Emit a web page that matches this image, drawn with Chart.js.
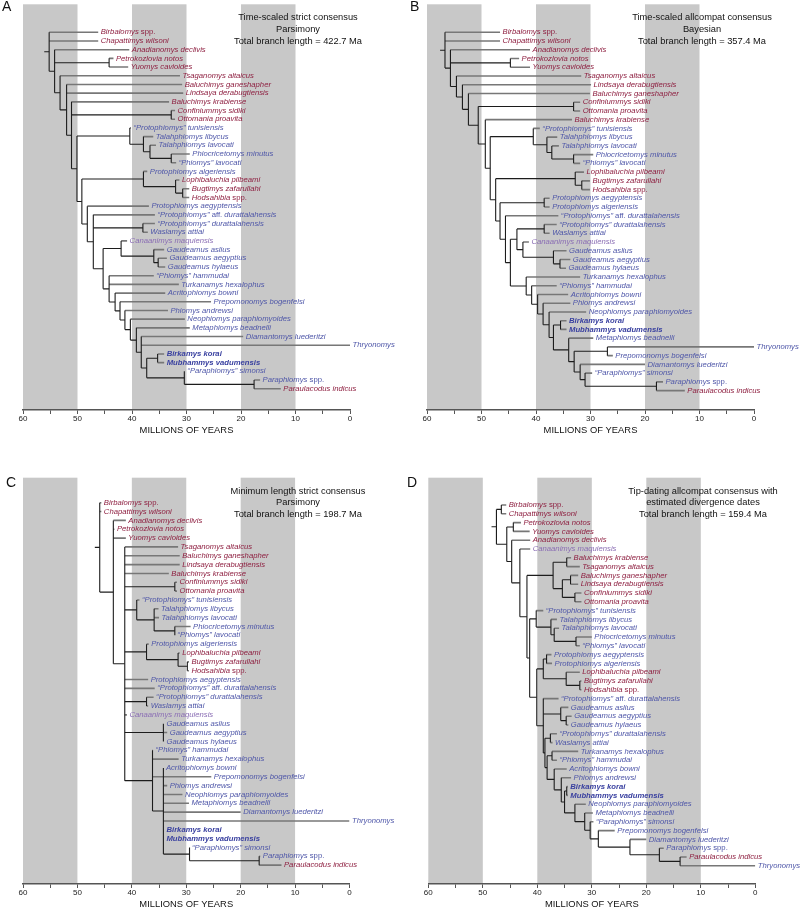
<!DOCTYPE html>
<html lang="en">
<head>
<meta charset="UTF-8" />
<title>Time-scaled phiomorph trees</title>
<script src="https://cdn.jsdelivr.net/npm/chart.js"></script>
<style>
  body { margin: 0; background: #fff; width: 800px; height: 907px; position: relative; overflow: hidden; }
  canvas { position: absolute; }
</style>
</head>
<body>
<canvas id="chartA" width="400" height="450" style="left:0px;top:0px"></canvas>
<canvas id="chartB" width="400" height="450" style="left:400px;top:0px"></canvas>
<canvas id="chartC" width="400" height="434" style="left:0px;top:473px"></canvas>
<canvas id="chartD" width="400" height="434" style="left:400px;top:473px"></canvas>
<script>
// x axis (millions of years before present)
const axisTicks = [60, 50, 40, 30, 20, 10, 0];
const grayBands = [[60, 50], [40, 30], [20, 10]];

const redTaxa = ['Birbalomys spp.', 'Chapattimys wilsoni', 'Anadianomys declivis', 'Petrokozlovia notos',
  'Yuomys cavioides', 'Tsaganomys altaicus', 'Baluchimys ganeshapher', 'Lindsaya derabugtiensis',
  'Baluchimys krabiense', 'Confiniummys sidiki', 'Ottomania proavita', 'Lophibaluchia pilbeami',
  'Bugtimys zafarullahi', 'Hodsahibia spp.', 'Paraulacodus indicus'];
const purpleTaxa = ['Canaanimys maquiensis'];
const boldTaxa = ['Birkamys korai', 'Mubhammys vadumensis'];

const titleA = ['Time-scaled strict consensus', 'Parsimony', 'Total branch length = 422.7 Ma'];
const titleB = ['Time-scaled allcompat consensus', 'Bayesian', 'Total branch length = 357.4 Ma'];
const titleC = ['Minimum length strict consensus', 'Parsimony', 'Total branch length = 198.7 Ma'];
const titleD = ['Tip-dating allcompat consensus with', 'estimated divergence dates', 'Total branch length = 159.4 Ma'];

// tip order (top to bottom), tip ages in Ma, and nodes: [age, children...]
// a positive child is a tip row (1-based), a negative child -k is node k; node 0 is the root
const taxaA = ['Birbalomys spp.', 'Chapattimys wilsoni', 'Anadianomys declivis', 'Petrokozlovia notos', 'Yuomys cavioides',
  'Tsaganomys altaicus', 'Baluchimys ganeshapher', 'Lindsaya derabugtiensis', 'Baluchimys krabiense', 'Confiniummys sidiki',
  'Ottomania proavita', '“Protophiomys” tunisiensis', 'Talahphiomys libycus', 'Talahphiomys lavocati', 'Phiocricetomys minutus',
  '“Phiomys” lavocati', 'Protophiomys algeriensis', 'Lophibaluchia pilbeami', 'Bugtimys zafarullahi', 'Hodsahibia spp.',
  'Protophiomys aegyptensis', '“Protophiomys” aff. durattalahensis', '“Protophiomys” durattalahensis', 'Waslamys attiai', 'Canaanimys maquiensis',
  'Gaudeamus aslius', 'Gaudeamus aegyptius', 'Gaudeamus hylaeus', '“Phiomys” hammudai', 'Turkanamys hexalophus',
  'Acritophiomys bowni', 'Prepomonomys bogenfelsi', 'Phiomys andrewsi', 'Neophiomys paraphiomyoides', 'Metaphiomys beadnelli',
  'Diamantomys luederitzi', 'Thryonomys', 'Birkamys korai', 'Mubhammys vadumensis', '“Paraphiomys” simonsi',
  'Paraphiomys spp.', 'Paraulacodus indicus'];
const tipAgeA = [46.2, 46.2, 40.5, 43.4, 40.7, 31.2, 30.8, 30.6, 33.2, 32.1,
  32.1, 40.2, 36.1, 35.6, 29.4, 31.9, 37.2, 31.3, 29.5, 29.5,
  36.9, 35.8, 35.8, 37.1, 40.9, 34.1, 33.6, 33.9, 36.0, 31.4,
  33.9, 25.5, 33.4, 30.3, 29.4, 19.6, 0, 34.1, 34.1, 30.3,
  16.5, 12.7];
const nodesA = [
  [55.2, 1, 2, -1], [54.2, 3, -2, -3], [44.2, 4, 5], [53.2, 6, -4], [52.0, 7, 8, -5],
  [51.1, 9, -6, -7], [32.8, 10, 11], [50.1, -8, -12], [40.4, 12, -9], [37.9, 13, -10],
  [36.7, 14, -11], [32.8, 15, 16], [49.2, -13, -16], [37.9, 17, -14], [32.0, 18, -15],
  [30.7, 19, 20], [48.2, 21, -17], [47.1, 22, -18, -19], [38.0, 23, 24], [45.3, -20, -23],
  [42.0, 25, -21], [36.0, 26, -22], [35.2, 27, 28], [44.2, 29, 30, -24], [43.1, 31, -25],
  [42.2, 32, -26], [41.3, 33, -27], [40.3, 34, -28], [39.2, 35, -29], [38.3, 36, 37, -30],
  [37.3, -31, -32], [35.3, 38, 39], [30.4, 40, -33], [17.6, 41, 42]];

const taxaB = ['Birbalomys spp.', 'Chapattimys wilsoni', 'Anadianomys declivis', 'Petrokozlovia notos', 'Yuomys cavioides',
  'Tsaganomys altaicus', 'Lindsaya derabugtiensis', 'Baluchimys ganeshapher', 'Confiniummys sidiki', 'Ottomania proavita',
  'Baluchimys krabiense', '“Protophiomys” tunisiensis', 'Talahphiomys libycus', 'Talahphiomys lavocati', 'Phiocricetomys minutus',
  '“Phiomys” lavocati', 'Lophibaluchia pilbeami', 'Bugtimys zafarullahi', 'Hodsahibia spp.', 'Protophiomys aegyptensis',
  'Protophiomys algeriensis', '“Protophiomys” aff. durattalahensis', '“Protophiomys” durattalahensis', 'Waslamys attiai', 'Canaanimys maquiensis',
  'Gaudeamus aslius', 'Gaudeamus aegyptius', 'Gaudeamus hylaeus', 'Turkanamys hexalophus', '“Phiomys” hammudai',
  'Acritophiomys bowni', 'Phiomys andrewsi', 'Neophiomys paraphiomyoides', 'Birkamys korai', 'Mubhammys vadumensis',
  'Metaphiomys beadnelli', 'Thryonomys', 'Prepomonomys bogenfelsi', 'Diamantomys luederitzi', '“Paraphiomys” simonsi',
  'Paraphiomys spp.', 'Paraulacodus indicus'];
const tipAgeB = [46.6, 46.6, 41.1, 43.1, 41.1, 31.7, 29.9, 30.1, 31.9, 31.9,
  33.4, 39.3, 36.1, 35.8, 29.5, 31.9, 31.2, 30.1, 30.1, 37.5,
  37.5, 35.9, 36.2, 37.5, 41.3, 34.4, 33.7, 34.5, 31.9, 36.2,
  34.1, 33.7, 30.8, 34.4, 34.4, 29.5, 0, 25.9, 20.0, 29.7,
  16.7, 12.7];
const nodesB = [
  [56.7, 1, 2, -1], [55.7, 3, -2, -3], [44.7, 4, 5], [54.6, 6, -4], [53.5, 7, -5],
  [52.4, 8, -6], [50.6, -7, -8], [33.1, 9, 10], [49.3, 11, -9], [48.4, -10, -14],
  [40.5, 12, -11], [38.0, 13, -12], [37.1, 14, -13], [33.1, 15, 16], [47.4, -15, -17],
  [32.8, 17, -16], [31.6, 18, 19], [46.6, -18, -19], [38.5, 20, 21], [45.6, 22, -20],
  [44.7, -21, -26], [43.5, -22, -23], [38.5, 23, 24], [42.4, 25, -24], [36.8, 26, -25],
  [35.6, 27, 28], [41.8, 29, -27], [40.8, 30, -28], [39.7, 31, -29], [38.7, 32, -30],
  [37.6, 33, -31], [36.8, -32, -33], [35.5, 34, 35], [34.0, 36, -34], [33.0, -35, -36],
  [26.9, 37, 38], [31.9, 39, -37], [31.0, 40, -38], [17.9, 41, 42]];

const taxaC = taxaA; // same tip order as panel A
const tipAgeC = [45.6, 45.6, 41.1, 43.2, 41.1, 31.5, 31.2, 31.2, 33.2, 31.7,
  31.7, 38.6, 35.1, 35.0, 29.2, 32.1, 36.9, 31.2, 29.5, 29.5,
  37.0, 35.8, 36.0, 37.0, 40.9, 34.1, 33.5, 34.1, 36.1, 31.4,
  34.2, 25.4, 33.5, 30.7, 29.5, 20.0, 0, 34.1, 34.1, 29.4,
  16.4, 12.5];
const nodesC = [
  [45.9, 1, 2, -1], [43.4, 3, 4, 5, -2],
  [41.3, 6, 7, 8, 9, -3, -4, -7, 21, 22, -10, 25, -11, -12],
  [32.1, 10, 11], [39.1, 12, -5], [35.9, 13, 14, -6], [32.1, 15, 16], [37.3, 17, -8],
  [31.5, 18, -9], [29.8, 19, 20], [37.3, 23, 24], [34.2, 26, 27, 28], [36.2, 29, 30, 32, -13],
  [34.2, 31, 33, 34, 35, 36, 37, 38, 39, -14], [29.4, 40, -15], [16.6, 41, 42]];

const taxaD = ['Birbalomys spp.', 'Chapattimys wilsoni', 'Petrokozlovia notos', 'Yuomys cavioides', 'Anadianomys declivis',
  'Canaanimys maquiensis', 'Baluchimys krabiense', 'Tsaganomys altaicus', 'Baluchimys ganeshapher', 'Lindsaya derabugtiensis',
  'Confiniummys sidiki', 'Ottomania proavita', '“Protophiomys” tunisiensis', 'Talahphiomys libycus', 'Talahphiomys lavocati',
  'Phiocricetomys minutus', '“Phiomys” lavocati', 'Protophiomys aegyptensis', 'Protophiomys algeriensis', 'Lophibaluchia pilbeami',
  'Bugtimys zafarullahi', 'Hodsahibia spp.', '“Protophiomys” aff. durattalahensis', 'Gaudeamus aslius', 'Gaudeamus aegyptius',
  'Gaudeamus hylaeus', '“Protophiomys” durattalahensis', 'Waslamys attiai', 'Turkanamys hexalophus', '“Phiomys” hammudai',
  'Acritophiomys bowni', 'Phiomys andrewsi', 'Birkamys korai', 'Mubhammys vadumensis', 'Neophiomys paraphiomyoides',
  'Metaphiomys beadnelli', '“Paraphiomys” simonsi', 'Prepomonomys bogenfelsi', 'Diamantomys luederitzi', 'Paraphiomys spp.',
  'Paraulacodus indicus', 'Thryonomys'];
const tipAgeD = [45.7, 45.7, 43.0, 41.4, 41.3, 41.3, 33.8, 32.2, 32.5, 32.5,
  31.9, 31.9, 38.9, 36.4, 36.0, 30.0, 32.2, 37.4, 37.3, 32.2,
  31.9, 31.9, 36.1, 34.3, 33.7, 34.3, 36.4, 37.2, 32.5, 36.4,
  34.6, 33.8, 34.4, 34.4, 31.1, 29.8, 29.7, 25.8, 20.0, 16.8,
  12.6, 0];
const nodesD = [
  [47.5, -1, -2], [46.6, 1, 2], [45.6, -3, -4], [44.4, 3, 4], [44.7, 5, -5],
  [43.2, 6, -6], [41.9, -7, -12], [37.1, -8, -9], [34.6, 7, 8], [35.4, -10, -11],
  [33.9, 9, 10], [33.1, 11, 12], [41.4, -13, -17], [40.2, 13, -14], [37.5, 14, -15],
  [36.9, 15, -16], [32.9, 16, 17], [40.1, -18, -22], [38.9, -19, -20], [38.3, 18, 19],
  [34.7, 20, -21], [32.2, 21, 22], [38.9, 23, -23, -25], [35.7, 24, -24], [34.7, 25, 26],
  [38.6, -26, -27], [37.6, 27, 28], [38.2, -28, -29], [37.3, 29, 30], [36.9, 31, -30],
  [35.6, 32, -31], [35.0, -32, -33], [34.6, 33, 34], [33.1, 35, -34], [31.3, 36, -35],
  [30.3, 37, -36], [28.8, 38, -37], [23.0, 39, -38], [17.6, 40, -39], [13.8, 41, 42]];

const FONT = '"Liberation Sans", Arial, sans-serif';

// turn node table into branch segments (x = age, y = tip row)
function branchSegments(nodes, tipAge) {
  const segs = [];
  function place(ref) {
    if (ref > 0) return { x: tipAge[ref - 1], y: ref, tip: true };
    const node = nodes[-ref];
    const age = node[0];
    const kids = node.slice(1).map(place);
    const ys = kids.map(k => k.y);
    const top = Math.min(...ys), bot = Math.max(...ys);
    segs.push({ pts: [{ x: age, y: top }, { x: age, y: bot }], tip: false });
    kids.forEach(k => segs.push({ pts: [{ x: age, y: k.y }, { x: k.x, y: k.y }], tip: k.tip }));
    return { x: age, y: (top + bot) / 2, tip: false };
  }
  const root = place(0);
  segs.push({ pts: [{ x: root.x + 0.9, y: root.y }, { x: root.x, y: root.y }], tip: false });
  return segs;
}

function labelColor(name) {
  if (boldTaxa.includes(name)) return '#3a41a0';
  if (redTaxa.includes(name)) return '#8e1f40';
  if (purpleTaxa.includes(name)) return '#8a6db4';
  return '#4e56a8';
}

function makePanel(id, letter, title, taxa, tipAge, nodes, box) {
  const segs = branchSegments(nodes, tipAge);
  const datasets = segs.map(s => ({
    data: s.pts,
    showLine: true,
    borderColor: s.tip ? '#777777' : '#1c1c1c',
    borderWidth: s.tip ? 1.6 : 1.1,
    pointRadius: 0,
    fill: false
  }));

  const treePlugin = {
    id: 'tree' + letter,
    beforeDraw(chart) {
      const { ctx, chartArea, scales } = chart;
      ctx.save();
      ctx.fillStyle = '#c8c8c8';
      grayBands.forEach(b => {
        const x1 = scales.x.getPixelForValue(b[0]);
        const x2 = scales.x.getPixelForValue(b[1]);
        ctx.fillRect(x1, chartArea.top, x2 - x1, chartArea.bottom - chartArea.top);
      });
      ctx.restore();
    },
    afterDraw(chart) {
      const { ctx, chartArea, scales } = chart;
      ctx.save();
      ctx.textBaseline = 'middle';
      // tip labels
      taxa.forEach((name, i) => {
        let x = scales.x.getPixelForValue(tipAge[i]) + 2.5;
        const y = scales.y.getPixelForValue(i + 1);
        const bold = boldTaxa.includes(name) ? 'bold ' : '';
        ctx.fillStyle = labelColor(name);
        name.split(' ').forEach((tok, j) => {
          const upright = tok === 'spp.' || tok === 'aff.';
          ctx.font = (upright ? '' : 'italic ') + bold + '7.7px ' + FONT;
          const txt = (j > 0 ? ' ' : '') + tok;
          ctx.fillText(txt, x, y);
          x += ctx.measureText(txt).width;
        });
      });
      // panel title
      ctx.fillStyle = '#111';
      ctx.textAlign = 'center';
      ctx.font = '9.3px ' + FONT;
      title.forEach((line, i) => ctx.fillText(line, box.titleX, box.titleY + i * 11.7));
      // axis title
      ctx.font = '9.4px ' + FONT;
      ctx.fillText('MILLIONS OF YEARS', (chartArea.left + chartArea.right) / 2, chartArea.bottom + 20);
      // panel letter
      ctx.textAlign = 'left';
      ctx.font = '14px ' + FONT;
      ctx.fillText(letter, box.letterX, box.letterY);
      ctx.restore();
    }
  };

  new Chart(document.getElementById(id), {
    type: 'scatter',
    data: { datasets },
    options: {
      responsive: false,
      animation: false,
      devicePixelRatio: 1,
      events: [],
      layout: { padding: { left: box.padL, right: box.padR, top: box.padT, bottom: box.padB } },
      plugins: { legend: { display: false }, tooltip: { enabled: false } },
      scales: {
        x: {
          type: 'linear', reverse: true, min: 0, max: 60,
          afterFit: s => { s.height = 16; },
          ticks: {
            stepSize: 5, autoSkip: false, maxRotation: 0, padding: 0, color: '#222',
            font: { family: FONT, size: 8 },
            callback: v => axisTicks.includes(v) ? String(v) : ''
          },
          grid: { drawOnChartArea: false, drawTicks: true, tickLength: 4, color: '#555', lineWidth: 1 },
          border: { display: true, color: '#555', width: 1.4 }
        },
        y: { type: 'linear', display: false, reverse: true, min: box.rowMin, max: box.rowMax }
      }
    },
    plugins: [treePlugin]
  });
}

makePanel('chartA', 'A', titleA, taxaA, tipAgeA, nodesA,
  { padL: 23, padR: 50, padT: 4.3, padB: 24, rowMin: -2.22, rowMax: 44.45, titleX: 298, titleY: 17.7, letterX: 2, letterY: 7 });
makePanel('chartB', 'B', titleB, taxaB, tipAgeB, nodesB,
  { padL: 27, padR: 46, padT: 4.3, padB: 24, rowMin: -2.2, rowMax: 44.22, titleX: 302, titleY: 17.7, letterX: 10, letterY: 7 });
makePanel('chartC', 'C', titleC, taxaC, tipAgeC, nodesC,
  { padL: 23, padR: 50.5, padT: 4.7, padB: 7, rowMin: -1.83, rowMax: 44.13, titleX: 298, titleY: 18.1, letterX: 6, letterY: 10 });
makePanel('chartD', 'D', titleD, taxaD, tipAgeD, nodesD,
  { padL: 28.3, padR: 44.7, padT: 4.7, padB: 7, rowMin: -2.1, rowMax: 44.07, titleX: 303, titleY: 18.1, letterX: 7, letterY: 10 });
</script>
</body>
</html>
